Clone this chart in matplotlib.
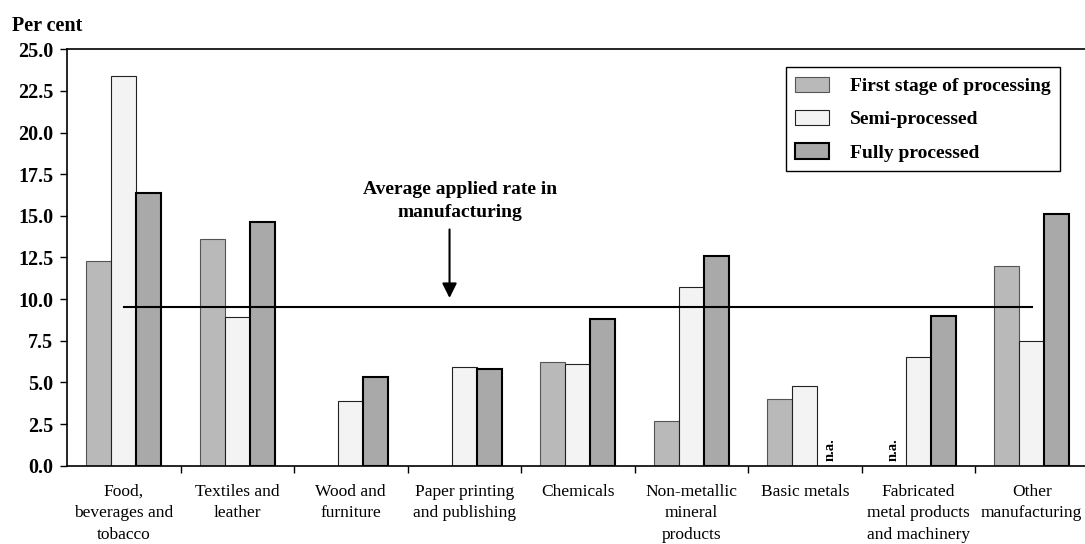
import matplotlib
matplotlib.use("Agg")
import matplotlib.pyplot as plt
import numpy as np

# --- data ---
categories = [
    "Food,\nbeverages and\ntobacco",
    "Textiles and\nleather",
    "Wood and\nfurniture",
    "Paper printing\nand publishing",
    "Chemicals",
    "Non-metallic\nmineral\nproducts",
    "Basic metals",
    "Fabricated\nmetal products\nand machinery",
    "Other\nmanufacturing",
]
first_stage = [12.3, 13.6, 0.0, 0.0, 6.2, 2.7, 4.0, np.nan, 12.0]
semi_processed = [23.4, 8.9, 3.9, 5.9, 6.1, 10.7, 4.8, 6.5, 7.5]
fully_processed = [16.4, 14.6, 5.3, 5.8, 8.8, 12.6, np.nan, 9.0, 15.1]
average_rate = 9.5
series_names = ["First stage of processing", "Semi-processed", "Fully processed"]
y_ticks = [0.0, 2.5, 5.0, 7.5, 10.0, 12.5, 15.0, 17.5, 20.0, 22.5, 25.0]

# --- style ---
plt.rcParams["font.family"] = ["Liberation Serif", "DejaVu Serif"]

fig = plt.figure(figsize=(10.85, 5.44), dpi=100)
ax = fig.add_axes([0.0618, 0.144, 0.9382, 0.7654])

x = np.arange(len(categories))
w = 0.22
styles = [
    dict(color="#b9b9b9", edgecolor="#555555", linewidth=0.8),
    dict(color="#f3f3f3", edgecolor="#222222", linewidth=0.8),
    dict(color="#a9a9a9", edgecolor="#000000", linewidth=1.5),
]
series = [first_stage, semi_processed, fully_processed]

handles = []
for k, (vals, st) in enumerate(zip(series, styles)):
    vals = np.array(vals, dtype=float)
    ok = np.isfinite(vals) & (vals > 0)
    b = ax.bar(x[ok] + (k - 1) * w, vals[ok], width=w, zorder=2, **st)
    handles.append(b)
    # n.a. labels where the value is missing
    for i in np.where(~np.isfinite(vals))[0]:
        ax.text(x[i] + (k - 1) * w, 0.3, "n.a.", rotation=90, ha="center",
                va="bottom", fontsize=10.5, fontweight="bold")

# average line across the categories
ax.plot([x[0], x[-1]], [average_rate, average_rate], color="black", lw=1.5, zorder=3)
ax.annotate("", xy=(2.87, 9.9), xytext=(2.87, 14.35),
            arrowprops=dict(arrowstyle="-|>", color="black", lw=1.5, mutation_scale=22))
ax.text(2.96, 14.93, "Average applied rate in\nmanufacturing", ha="center",
        va="baseline", multialignment="center", fontsize=14, fontweight="bold",
        linespacing=1.45)

# axes
ax.set_ylim(0, 25)
ax.set_xlim(-0.5, -0.5 + 1018 / 113.5)
ax.set_yticks(y_ticks)
ax.set_yticklabels([f"{t:.1f}" for t in y_ticks], fontsize=14.5, fontweight="bold")
ax.tick_params(axis="y", direction="out", length=5, width=1, pad=5)
ax.set_xticks(x)
ax.set_xticklabels(categories, fontsize=12.5, linespacing=1.45)
ax.set_xticks(x[:-1] + 0.5, minor=True)
ax.tick_params(axis="x", which="major", length=0, pad=13)
ax.tick_params(axis="x", which="minor", length=5, width=1, direction="out")
ax.spines["right"].set_visible(False)
for s in ["left", "bottom", "top"]:
    ax.spines[s].set_linewidth(1.2)

fig.text(12 / 1085, 1 - 31 / 544, "Per cent", fontsize=14.5, fontweight="bold",
         va="baseline", ha="left")

leg = ax.legend(handles, series_names, loc="upper left",
                bbox_to_anchor=(0.706, 0.9575), borderaxespad=0,
                fancybox=False, edgecolor="black", framealpha=1,
                prop=dict(weight="bold", size=14),
                handlelength=1.7, handleheight=0.85, handletextpad=1.1,
                labelspacing=0.76, borderpad=0.5)
leg.get_frame().set_linewidth(1.0)

fig.savefig("out.png", dpi=100)
